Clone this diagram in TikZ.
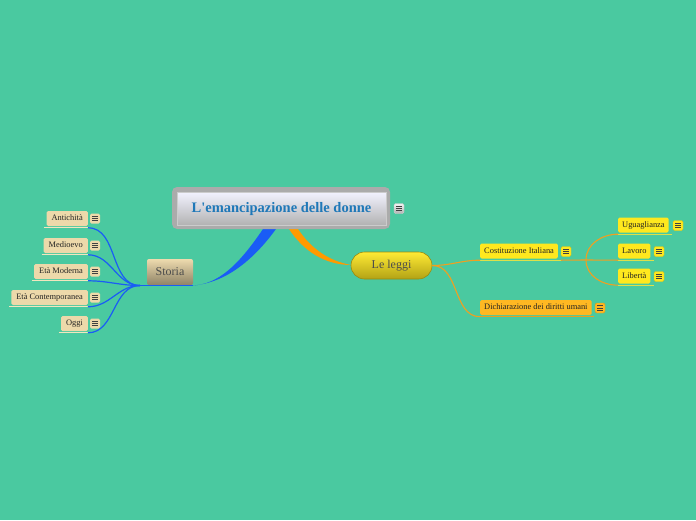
\documentclass[tikz,border=0pt]{standalone}
\usepackage{fontspec}
\setmainfont{Liberation Serif}
\usetikzlibrary{shapes.misc}
\definecolor{bg}{HTML}{4AC9A0}
\definecolor{bluel}{HTML}{1A5CF5}
\definecolor{orl}{HTML}{F0A020}
\definecolor{orthick}{HTML}{FF9A00}
\definecolor{tanbox}{HTML}{EDD9AA}
\definecolor{tanline}{HTML}{F3E6BE}
\definecolor{yelbox}{HTML}{FFE81E}
\definecolor{yelline}{HTML}{DDE04A}
\definecolor{orbox}{HTML}{FFB822}
\definecolor{orline}{HTML}{E8A020}
\definecolor{txt}{HTML}{222222}
\definecolor{titleblue}{HTML}{1F78B8}
\tikzset{
  kid/.style={rounded corners=1.5pt, font=\fontsize{8.4}{9}\selectfont, text=txt,
    inner xsep=5pt, inner ysep=0pt, minimum height=15pt, anchor=west, text height=6pt, text depth=1.5pt},
  tankid/.style={kid, fill=tanbox, anchor=east},
  yelkid/.style={kid, fill=yelbox, inner xsep=4pt},
  orkid/.style={kid, fill=orbox, inner xsep=4pt},
  iconbox/.style={minimum width=10pt, minimum height=10pt, inner sep=0pt,
    rounded corners=1.5pt,
    path picture={
      \foreach \dy in {-2.2,0,2.2}
        \draw[line width=0.8pt, black!75] ([xshift=-2.6pt,yshift=\dy pt]path picture bounding box.center) -- ([xshift=2.6pt,yshift=\dy pt]path picture bounding box.center);
    }},
  bcon/.style={draw=bluel, line width=1.2pt},
  ocon/.style={draw=orl, line width=1.1pt},
}
\begin{document}
\begin{tikzpicture}[x=1pt,y=-1pt]
\fill[bg] (0,0) rectangle (696,520);
\useasboundingbox (0,0) rectangle (696,520);

% thick connectors from central topic
\coordinate (cb1) at (263,229);
\coordinate (cb2) at (276,229);
\coordinate (co1) at (289,229);
\coordinate (co2) at (298,229);
\coordinate (stend) at (193,285.5);
\coordinate (llend) at (351,265);
\fill[bluel] (cb1) .. controls (238,266) and (218,284) .. (stend)
  .. controls (224,283) and (252,262) .. (cb2) -- cycle;
\fill[orthick] (co1) .. controls (304,252) and (326,265) .. (llend)
  .. controls (330,261) and (312,250) .. (co2) -- cycle;

% central topic
\fill[black!33, rounded corners=5pt] (172,187) rectangle (390,229);
\node[minimum width=209pt, minimum height=33pt, top color=white!95!blue, bottom color=black!30,
  draw=black!20, line width=0.4pt, inner sep=0pt, text height=10pt, text depth=2pt,
  font=\bfseries\fontsize{14.5}{16}\selectfont, text=titleblue] (center) at (281.5,208.5) {L\textquotesingle emancipazione delle donne};
\node[iconbox, top color=black!5, bottom color=black!30, draw=black!20] (ic0) at (399,208.5) {};

% Storia
\node[minimum width=46pt, minimum height=26pt, inner sep=0pt, rounded corners=2pt,
  top color=tanbox!95!white, bottom color=black!25!tanbox!80!black,
  font=\fontsize{12}{14}\selectfont, text=black!70] (storia) at (170,272) {Storia};
\draw[bluel, line width=1.4pt] (140,285.5) -- (stend);

\node[tankid] (k1) at (88,218.5) {Antichità};
\node[tankid] (k2) at (88,245.5) {Medioevo};
\node[tankid] (k3) at (88,271.5) {Età Moderna};
\node[tankid] (k4) at (88,297.5) {Età Contemporanea};
\node[tankid] (k5) at (88,323.5) {Oggi};
\foreach \k/\y in {k1/218.5,k2/245.5,k3/271.5,k4/297.5,k5/323.5}{
  \draw[tanline, line width=1.5pt] ([xshift=-2pt,yshift=-1.5pt]\k.south west) -- ([yshift=-1.5pt]\k.south east);
  \node[iconbox, fill=tanbox] at (95,\y) {};
  \draw[bcon] ([yshift=-1.6pt]\k.south east) to[out=0,in=180] (140,285.5);
}

% Le leggi
\node[rounded rectangle, minimum width=81pt, minimum height=27pt, inner sep=0pt,
  top color=yelbox!90!white, bottom color=yelbox!70!black, draw=yelbox!60!black, line width=0.6pt,
  font=\fontsize{12}{14}\selectfont, text=black!70] (leggi) at (391.5,265.5) {Le leggi};

\node[yelkid] (cost) at (480,251) {Costituzione Italiana};
\node[orkid] (dich) at (480,307.5) {Dichiarazione dei diritti umani};
\node[iconbox, fill=yelbox, draw=yelbox!85!black] (ic1) at (566,251.5) {};
\node[iconbox, fill=orbox, draw=orbox!85!black] (ic2) at (600,308) {};
\draw[yelline, line width=1.3pt] ([yshift=-1.5pt]cost.south west) -- ([xshift=3pt,yshift=-1.5pt]cost.south east);
\draw[orline, line width=1.3pt] ([yshift=-1.5pt]dich.south west) -- ([xshift=2pt,yshift=-1.5pt]dich.south east);
\draw[ocon] (leggi.east) to[out=0,in=180] ([yshift=-1.5pt]cost.south west);
\draw[ocon] (leggi.east) to[out=0,in=180] ([yshift=-1.5pt]dich.south west);

\node[yelkid] (ug) at (618,225) {Uguaglianza};
\node[yelkid] (la) at (618,251) {Lavoro};
\node[yelkid] (li) at (618,276) {Libertà};
\node[iconbox, fill=yelbox, draw=yelbox!85!black] at (678,225.5) {};
\node[iconbox, fill=yelbox, draw=yelbox!85!black] at (659,251.5) {};
\node[iconbox, fill=yelbox, draw=yelbox!85!black] at (659,276.5) {};
\coordinate (jn) at (586,260);
\draw[ocon] ([xshift=3pt,yshift=-1.5pt]cost.south east) -- (jn);
\foreach \k in {ug,la,li}{
  \draw[yelline, line width=1.3pt] ([yshift=-1.5pt]\k.south west) -- ([xshift=3pt,yshift=-1.5pt]\k.south east);
}
\draw[ocon] (jn) to[out=90,in=180] ([yshift=-1.5pt]ug.south west);
\draw[ocon] (jn) -- ([yshift=-1.5pt]la.south west);
\draw[ocon] (jn) to[out=-90,in=180] ([yshift=-1.5pt]li.south west);
\end{tikzpicture}
\end{document}
